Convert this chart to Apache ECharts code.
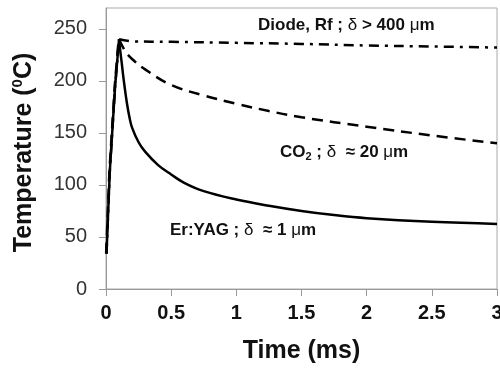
<!DOCTYPE html>
<html>
<head>
<meta charset="utf-8">
<script src="https://cdn.jsdelivr.net/npm/echarts@6/dist/echarts.min.js"></script>
<style>html,body{margin:0;padding:0;background:#fff}#c{width:500px;height:374px}</style>
</head>
<body>
<div id="c"></div>
<script>
// Heating ramp (common to all three lasers)
const riseTime = [0.004, 0.02, 0.03, 0.05, 0.07, 0.1];
const riseTemp = [34, 85, 115, 155, 195, 240];
// Er:YAG (solid) cooling
const timeEr = [0.1, 0.11, 0.12, 0.13, 0.14, 0.16, 0.18, 0.2, 0.25, 0.3, 0.4, 0.5, 0.6, 0.75, 1.0, 1.25, 1.5, 1.75, 2.0, 2.5, 3.0];
const tempEr = [240, 228, 218, 207, 197, 179, 165, 155, 141, 132, 119, 110, 102, 94, 86, 80, 75, 71, 68, 64.5, 62.5];
// CO2 (dashed) cooling
const timeCO2 = [0.1, 0.15, 0.2, 0.3, 0.5, 0.75, 1.0, 1.25, 1.5, 2.0, 2.5, 3.0];
const tempCO2 = [240, 228, 221, 211, 196, 186, 178, 171, 165, 156, 147.5, 140];
// Diode, Rf (dash-dot) cooling
const timeDiode = [0.1, 0.2, 0.5, 1.0, 1.5, 2.0, 2.5, 3.0];
const tempDiode = [240, 238, 237.5, 236.5, 235.5, 234, 233, 232];
const yTicks = [0, 50, 100, 150, 200, 250];
const xTicks = [0, 0.5, 1, 1.5, 2, 2.5, 3];

const zip = (a, b) => a.map((v, i) => [v, b[i]]);
const FONT = '"Liberation Sans", Arial, sans-serif';

const chart = echarts.init(document.getElementById('c'), null, {renderer: 'canvas'});
const base = {type: 'line', showSymbol: false, symbol: 'none', animation: false, z: 3};
const styles = {
  solid: {color: '#000', width: 2.5, type: 'solid'},
  dashed: {color: '#000', width: 2.5, type: [11, 7]},
  dashdot: {color: '#000', width: 2.5, type: [10, 6, 3, 6]}
};

chart.setOption({
  animation: false,
  backgroundColor: '#fff',
  grid: {left: 106, right: 3, top: 8, bottom: 85, show: true, borderColor: '#aaa', borderWidth: 1, outerBoundsMode: 'none', containLabel: false},
  xAxis: {
    type: 'value', min: 0, max: 3, interval: 0.5,
    name: 'Time (ms)', nameLocation: 'middle', nameGap: 50,
    nameTextStyle: {fontFamily: FONT, fontSize: 25, fontWeight: 'bold', color: '#111'},
    axisLine: {show: true, lineStyle: {color: '#999', width: 1}},
    axisTick: {show: true, length: 7, inside: false, lineStyle: {color: '#999'}},
    axisLabel: {fontFamily: FONT, fontSize: 20, fontWeight: 'bold', color: '#111', margin: 14, customValues: xTicks},
    splitLine: {show: false}
  },
  yAxis: {
    type: 'value', min: 0, max: 270, interval: 50,
    name: '{t|Temperature (}{s|0}{t|C)}', nameLocation: 'middle', nameGap: 68,
    nameTextStyle: {
      fontFamily: FONT, fontSize: 25, fontWeight: 'bold', color: '#111', padding: [0, 8, 0, 0],
      rich: {
        t: {fontFamily: FONT, fontSize: 25, fontWeight: 'bold', color: '#111', lineHeight: 28},
        s: {fontFamily: FONT, fontSize: 15, fontWeight: 'bold', color: '#111', verticalAlign: 'top', lineHeight: 28, padding: [0, 0, 8, 0]}
      }
    },
    axisLine: {show: true, lineStyle: {color: '#999', width: 1}},
    axisTick: {show: true, length: 7, lineStyle: {color: '#999'}, customValues: yTicks},
    axisLabel: {fontFamily: FONT, fontSize: 20, color: '#333', margin: 19, customValues: yTicks},
    splitLine: {show: false}
  },
  series: [
    Object.assign({}, base, {name: 'Er:YAG rise', data: zip(riseTime, riseTemp), smooth: false, lineStyle: styles.solid}),
    Object.assign({}, base, {name: 'Er:YAG', data: zip(timeEr, tempEr), smooth: 0.4, lineStyle: styles.solid}),
    Object.assign({}, base, {name: 'CO2 rise', data: zip(riseTime.map(t => Math.max(0, t - 0.003)), riseTemp), smooth: false, lineStyle: styles.dashed}),
    Object.assign({}, base, {name: 'CO2', data: zip(timeCO2, tempCO2), smooth: 0.4, lineStyle: styles.dashed}),
    Object.assign({}, base, {name: 'Diode rise', data: zip(riseTime, riseTemp), smooth: false, lineStyle: styles.dashdot}),
    Object.assign({}, base, {name: 'Diode', data: zip(timeDiode, tempDiode), smooth: 0.4, lineStyle: styles.dashdot})
  ],
  graphic: [
    {type: 'text', x: 258, y: 25, z: 10, style: {
      text: '{b|Diode, Rf ; }{s|δ}{b| > 400 }{s|μ}{b|m}', textVerticalAlign: 'middle', textAlign: 'left',
      rich: {b: {fontFamily: FONT, fontSize: 17, fontWeight: 'bold', fill: '#111'}, s: {fontFamily: FONT, fontSize: 17, fill: '#111'}}
    }},
    {type: 'text', x: 280, y: 152, z: 10, style: {
      text: '{b|CO}{sub|2}{b| ; }{s|δ}{b|  ≈ 20 }{s|μ}{b|m}', textVerticalAlign: 'middle', textAlign: 'left',
      rich: {b: {fontFamily: FONT, fontSize: 17, fontWeight: 'bold', fill: '#111', lineHeight: 20},
             sub: {fontFamily: FONT, fontSize: 11, fontWeight: 'bold', fill: '#111', verticalAlign: 'bottom', lineHeight: 20, padding: [6, 0, 0, 0]},
             s: {fontFamily: FONT, fontSize: 17, fill: '#111', lineHeight: 20}}
    }},
    {type: 'text', x: 170, y: 230, z: 10, style: {
      text: '{b|Er:YAG ; }{s|δ}{b|  ≈ 1 }{s|μ}{b|m}', textVerticalAlign: 'middle', textAlign: 'left',
      rich: {b: {fontFamily: FONT, fontSize: 17, fontWeight: 'bold', fill: '#111'}, s: {fontFamily: FONT, fontSize: 17, fill: '#111'}}
    }}
  ]
});
</script>
</body>
</html>
